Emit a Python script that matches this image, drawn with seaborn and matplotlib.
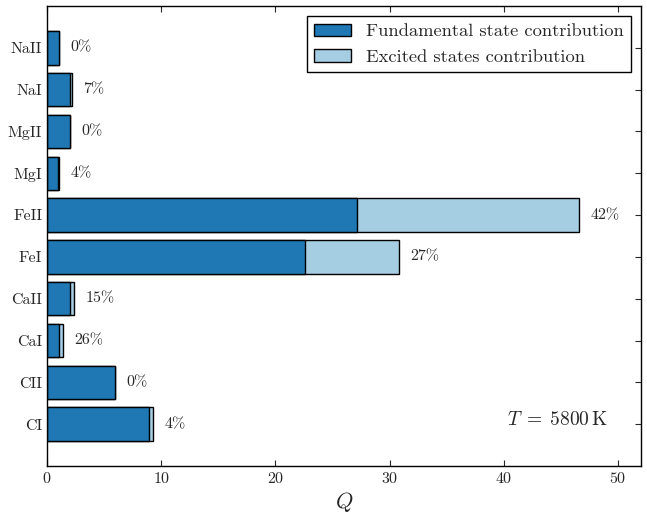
import matplotlib
matplotlib.use("Agg")
import matplotlib.pyplot as plt
import seaborn as sns
import pandas as pd
from matplotlib.patches import Patch

species = ["NaII", "NaI", "MgII", "MgI", "FeII", "FeI", "CaII", "CaI", "CII", "CI"]
fundamental = [1.05, 2.0, 2.0, 1.0, 27.1, 22.6, 2.0, 1.03, 5.96, 8.95]
excited = [0.0, 0.15, 0.0, 0.04, 19.5, 8.2, 0.35, 0.37, 0.0, 0.37]
pct_labels = ["0%", "7%", "0%", "4%", "42%", "27%", "15%", "26%", "0%", "4%"]

sns.set_style("ticks")
plt.rcParams["font.family"] = ["cmr10", "DejaVu Serif"]
plt.rcParams["mathtext.fontset"] = "cm"
plt.rcParams["axes.unicode_minus"] = False
plt.rcParams["axes.formatter.use_mathtext"] = True

pal = sns.color_palette("Paired")
dark, light = pal[1], pal[0]

total = [f + e for f, e in zip(fundamental, excited)]
df = pd.DataFrame({"species": species, "fundamental": fundamental,
                   "excited": excited, "total": total})

fig = plt.figure(figsize=(6.47, 5.14), dpi=100)
ax = fig.add_axes([0.0727, 0.0934, 0.9180, 0.8949])

sns.barplot(data=df, x="total", y="species", order=species, orient="h",
            color=light, saturation=1, edgecolor="black", linewidth=1.0,
            width=0.8, ax=ax)
sns.barplot(data=df, x="fundamental", y="species", order=species, orient="h",
            color=dark, saturation=1, edgecolor="black", linewidth=1.0,
            width=0.8, ax=ax)

for i, (t, lab) in enumerate(zip(total, pct_labels)):
    ax.text(t + 1.0, i, lab, ha="left", va="center", fontsize=11.5)

ax.set_xlim(0, 52)
ax.set_ylim(10, -1)
ax.set_xticks([0, 10, 20, 30, 40, 50])
ax.set_ylabel("")
ax.set_xlabel(r"$Q$", fontsize=16, labelpad=3)
ax.tick_params(axis="both", direction="in", top=True, right=True,
               length=4.5, width=0.8, labelsize=11.5)
for s in ax.spines.values():
    s.set_linewidth(1.0)
    s.set_color("black")

ax.text(0.945, 0.1, r"$T\;=\;5800\,\mathrm{K}$", transform=ax.transAxes,
        ha="right", va="center", fontsize=14)

handles = [Patch(facecolor=dark, edgecolor="black", label="Fundamental state contribution"),
           Patch(facecolor=light, edgecolor="black", label="Excited states contribution")]
leg = ax.legend(handles=handles, loc="upper right", fancybox=False,
                edgecolor="black", framealpha=1, fontsize=13.3,
                borderaxespad=0.55)
leg.get_frame().set_linewidth(1.0)

fig.savefig("out.png", dpi=100)
